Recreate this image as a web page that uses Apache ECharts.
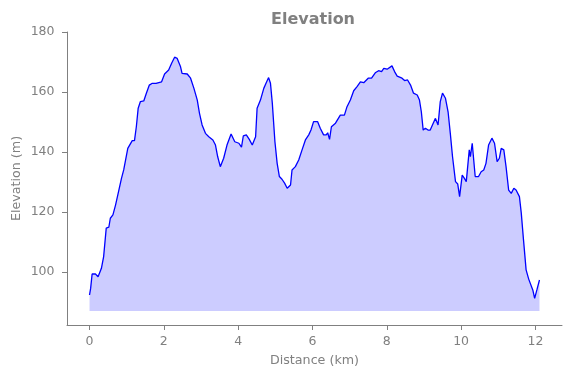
<!DOCTYPE html>
<html>
<head>
<meta charset="utf-8">
<script src="https://cdn.jsdelivr.net/npm/echarts@6/dist/echarts.min.js"></script>
<style>
  html, body { margin: 0; padding: 0; background: #fff; }
  #chart { width: 571px; height: 378px; }
</style>
</head>
<body>
<div id="chart"></div>
<script>
var distanceKm = [
  0.00, 0.03, 0.07, 0.16, 0.23, 0.32, 0.38, 0.45, 0.52, 0.56, 0.63, 0.70, 0.79, 0.86, 0.92, 0.97,
  1.03, 1.08, 1.15, 1.21, 1.26, 1.31, 1.37, 1.46, 1.53, 1.61, 1.69, 1.79, 1.94,
  2.02, 2.13, 2.21, 2.29, 2.36, 2.45, 2.49, 2.63, 2.72, 2.81, 2.90, 2.96,
  3.03, 3.12, 3.21, 3.32, 3.39, 3.45, 3.52, 3.61, 3.70, 3.81, 3.91,
  4.02, 4.09, 4.14, 4.22, 4.30, 4.38, 4.47, 4.51, 4.60, 4.69, 4.75, 4.82, 4.87, 4.92, 4.99,
  5.05, 5.11, 5.18, 5.25, 5.32, 5.41, 5.45, 5.54, 5.63, 5.72, 5.81, 5.90, 5.96,
  6.03, 6.08, 6.14, 6.21, 6.30, 6.37, 6.41, 6.46, 6.51, 6.62, 6.75, 6.86, 6.93,
  7.02, 7.11, 7.20, 7.29, 7.38, 7.50, 7.59, 7.69, 7.78, 7.86, 7.92,
  8.01, 8.14, 8.21, 8.28, 8.41, 8.48, 8.56, 8.64, 8.72, 8.82, 8.88, 8.93, 8.98,
  9.04, 9.11, 9.17, 9.25, 9.31, 9.38, 9.44, 9.50, 9.58, 9.65, 9.71, 9.77, 9.85, 9.91, 9.96,
  10.03, 10.09, 10.14, 10.19, 10.22, 10.25, 10.30, 10.34, 10.38, 10.47, 10.54, 10.61, 10.67, 10.74, 10.83, 10.90, 10.97,
  11.03, 11.08, 11.15, 11.21, 11.28, 11.35, 11.42, 11.48, 11.57, 11.62, 11.68, 11.75, 11.82, 11.86, 11.93, 11.98,
  12.04, 12.11
];

var elevationM = [
  92.3, 94.5, 99.3, 99.3, 98.4, 101.2, 105.1, 114.6, 114.9, 117.9, 119.0, 122.3, 127.3, 131.2, 134.0, 137.3,
  141.2, 141.2, 143.8, 143.8, 148.4, 154.6, 156.8, 157.0, 159.6, 162.3, 162.9, 162.9, 163.4,
  166.0, 167.3, 169.6, 171.6, 171.2, 168.4, 166.2, 166.0, 164.6, 161.2, 157.3, 152.9,
  149.0, 146.2, 145.1, 144.0, 142.3, 138.4, 135.1, 137.9, 142.3, 146.0, 143.4,
  142.9, 141.6, 145.4, 145.7, 144.2, 142.3, 145.1, 154.6, 157.3, 161.2, 162.9, 164.8, 162.9, 156.2, 143.4,
  136.2, 131.8, 130.9, 129.6, 127.9, 129.0, 134.0, 135.1, 137.3, 140.7, 144.0, 145.7, 147.3,
  150.1, 149.6, 150.1, 147.9, 145.7, 145.7, 146.4, 144.2, 148.4, 149.6, 152.3, 152.3, 155.1,
  157.3, 160.4, 161.8, 163.4, 163.1, 164.6, 164.6, 166.4, 167.1, 166.8, 167.9,
  167.6, 168.7, 166.8, 165.3, 164.6, 163.8, 164.0, 162.3, 159.6, 159.0, 157.3, 153.4, 147.3,
  147.9, 147.3, 147.3, 149.6, 151.2, 149.0, 156.8, 159.6, 157.9, 153.4, 146.2, 138.4, 130.1, 129.3, 125.1,
  132.3, 131.2, 130.1, 130.7, 140.7, 138.4, 142.9, 137.3, 131.8, 131.8, 133.4, 134.0, 136.2, 142.3, 144.6, 142.9, 136.8,
  137.9, 141.2, 140.7, 135.1, 127.3, 126.2, 127.9, 127.3, 125.1, 119.6, 110.7, 100.7, 97.6, 97.6, 94.0, 91.2,
  94.0, 97.3
];

var xTicks = [0, 2, 4, 6, 8, 10, 12];
var yTicks = [100, 120, 140, 160, 180];
var fillBase = 87;

var gray = '#808080';

var chart = echarts.init(document.getElementById('chart'), null, { renderer: 'canvas' });

var points = [];
for (var i = 0; i < distanceKm.length; i++) {
  points.push([distanceKm[i], elevationM[i]]);
}

var option = {
  animation: false,
  backgroundColor: '#fff',
  textStyle: { fontFamily: 'DejaVu Sans' },
  title: {
    text: 'Elevation',
    left: 266,
    top: 7,
    textStyle: { color: gray, fontSize: 16, fontWeight: 'bold', fontFamily: 'DejaVu Sans' }
  },
  grid: { left: 67, right: 9, top: 32, bottom: 53, containLabel: false, outerBoundsMode: 'none' },
  xAxis: {
    type: 'value',
    min: -0.606,
    max: 12.716,
    name: 'Distance (km)',
    nameLocation: 'middle',
    nameGap: 29,
    nameMoveOverlap: false,
    nameTextStyle: { color: gray, fontSize: 12.7 },
    splitLine: { show: false },
    axisLine: { show: true, onZero: false, lineStyle: { color: gray, width: 1 } },
    axisTick: { show: true, length: 5, lineStyle: { color: gray }, customValues: xTicks },
    axisLabel: { color: gray, fontSize: 12.5, margin: 10, customValues: xTicks }
  },
  yAxis: {
    type: 'value',
    min: 82.3,
    max: 180,
    name: 'Elevation (m)',
    nameLocation: 'middle',
    nameGap: 44,
    nameMoveOverlap: false,
    nameTextStyle: { color: gray, fontSize: 12.7 },
    splitLine: { show: false },
    axisLine: { show: true, onZero: false, lineStyle: { color: gray, width: 1 } },
    axisTick: { show: true, length: 5, lineStyle: { color: gray }, customValues: yTicks },
    axisLabel: { color: gray, fontSize: 12.5, margin: 12.5, customValues: yTicks }
  },
  series: [
    {
      type: 'line',
      data: points,
      showSymbol: false,
      symbol: 'none',
      lineStyle: { color: '#0000ff', width: 1.3 },
      areaStyle: { color: 'rgba(0,0,255,0.2)', opacity: 1, origin: fillBase },
      z: 3
    }
  ]
};

chart.setOption(option);
</script>
</body>
</html>
